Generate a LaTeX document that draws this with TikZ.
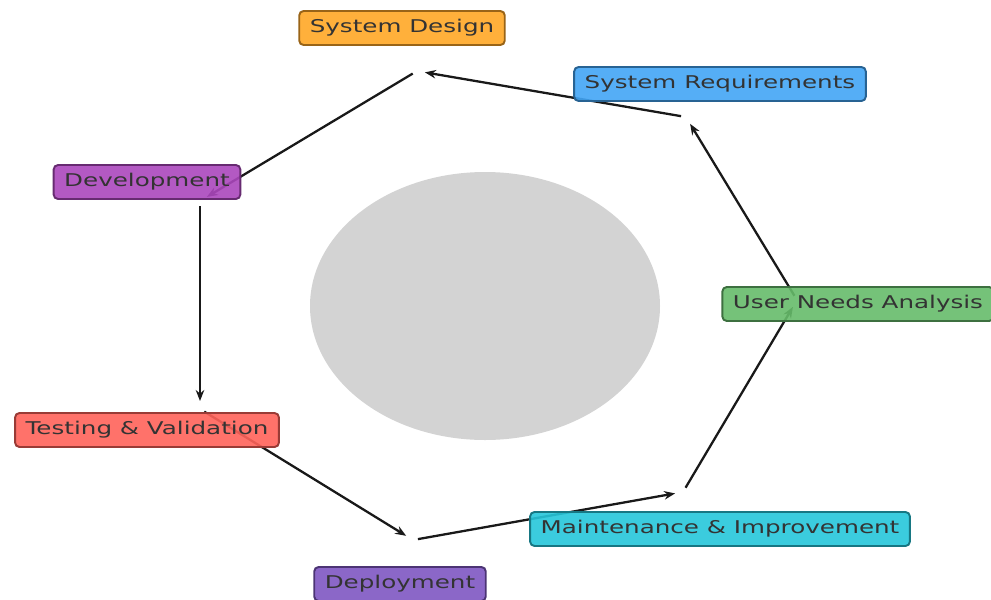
\documentclass[tikz,border=0pt]{standalone}
\usepackage{fontspec}
\usepackage{xcolor}
\usepackage{tikz}
\usetikzlibrary{arrows.meta}
\newfontfamily\lblfont[FakeStretch=1.4]{DejaVu Sans}
\definecolor{corange}{RGB}{255,167,38}
\definecolor{cblue}{RGB}{66,165,245}
\definecolor{cgreen}{RGB}{102,187,106}
\definecolor{ccyan}{RGB}{38,198,218}
\definecolor{cviolet}{RGB}{126,87,194}
\definecolor{cred}{RGB}{255,99,90}
\definecolor{cpurple}{RGB}{171,71,188}
\definecolor{cdisc}{RGB}{211,211,211}
\tikzset{
  phase/.style ={rectangle, rounded corners=2.5pt, line width=1.1pt,
                 fill opacity=0.9, text opacity=1, text=black!80,
                 minimum height=0.68cm, inner xsep=6pt, inner ysep=2pt,
                 font=\lblfont\fontsize{10}{12}\selectfont},
  ph/.style    ={phase, fill=#1, draw=#1!60!black},
  flow/.style  ={-{Stealth[length=2.2mm,width=1.7mm]}, line width=1.3pt,
                 draw=black!90, shorten <=1mm, shorten >=1.6mm}
}
\begin{document}
\begin{tikzpicture}[x=0.02cm, y=-0.02cm]
\useasboundingbox (0,0) rectangle (991,599);
\fill[cdisc] (485,306) ellipse [x radius=175, y radius=134];
\coordinate (p1) at (797,300);
\coordinate (p2) at (686,117);
\coordinate (p3) at (417,71);
\coordinate (p4) at (200,201);
\coordinate (p5) at (200,409);
\coordinate (p6) at (413,540);
\coordinate (p7) at (683,492);
\draw[flow] (p1) -- (p2);
\draw[flow] (p2) -- (p3);
\draw[flow] (p3) -- (p4);
\draw[flow] (p4) -- (p5);
\draw[flow] (p5) -- (p6);
\draw[flow] (p6) -- (p7);
\draw[flow] (p7) -- (p1);
\node[ph=cgreen]  (une) at (858,304) {User Needs Analysis};
\node[ph=cblue]   (req) at (720,84)  {System Requirements};
\node[ph=corange] (des) at (402,28)  {System Design};
\node[ph=cpurple] (dev) at (147,182) {Development};
\node[ph=cred]    (tst) at (147,430) {Testing \& Validation};
\node[ph=cviolet] (dep) at (400,584) {Deployment};
\node[ph=ccyan]   (mnt) at (720,529) {Maintenance \& Improvement};
\end{tikzpicture}
\end{document}
